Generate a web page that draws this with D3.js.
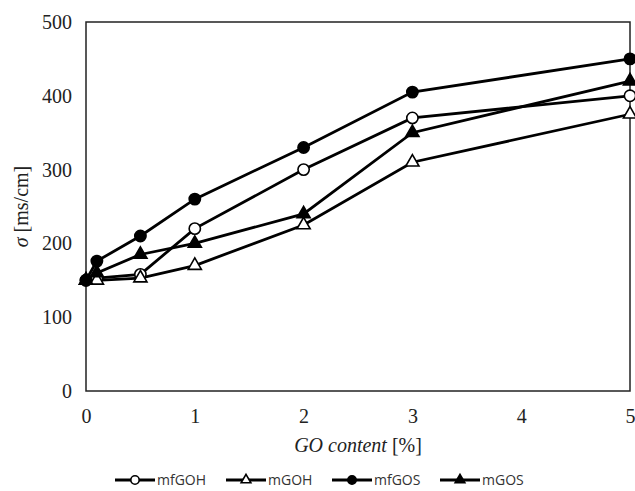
<!DOCTYPE html>
<html>
<head>
<meta charset="utf-8">
<title>sigma vs GO content</title>
<script src="https://d3js.org/d3.v7.min.js"></script>
<style>
  body { margin: 0; background: #fff; }
  svg { display: block; }
</style>
</head>
<body>
<div id="chart"></div>
<script>
// data
var goContent = [0, 0.1, 0.5, 1, 2, 3, 5];
var mfGOH = [150, 153, 158, 220, 300, 370, 400];
var mGOH  = [150, 150, 153, 170, 225, 310, 375];
var mfGOS = [150, 176, 210, 260, 330, 405, 450];
var mGOS  = [150, 160, 185, 200, 240, 350, 420];
var xTicks = [0, 1, 2, 3, 4, 5];
var yTicks = [0, 100, 200, 300, 400, 500];

var series = [
  { name: "mfGOH", values: mfGOH, shape: "circle",   fill: "#fff" },
  { name: "mGOH",  values: mGOH,  shape: "triangle", fill: "#fff" },
  { name: "mfGOS", values: mfGOS, shape: "circle",   fill: "#000" },
  { name: "mGOS",  values: mGOS,  shape: "triangle", fill: "#000" }
];

var W = 635, H = 491;
var margin = { top: 22, right: 5, bottom: 100, left: 86 };
var width = W - margin.left - margin.right,
    height = H - margin.top - margin.bottom;

var svg = d3.select("#chart").append("svg")
  .attr("width", W)
  .attr("height", H);

var g = svg.append("g")
  .attr("transform", "translate(" + margin.left + "," + margin.top + ")");

var x = d3.scaleLinear().domain([0, 5]).range([0, width]);
var y = d3.scaleLinear().domain([0, 500]).range([height, 0]);

// plot box
g.append("rect")
  .attr("width", width)
  .attr("height", height)
  .attr("fill", "none")
  .attr("stroke", "#222")
  .attr("stroke-width", 1.5);

// axes (labels only, box drawn above)
var xAxis = g.append("g")
  .attr("transform", "translate(0," + height + ")")
  .call(d3.axisBottom(x).tickValues(xTicks).tickSize(0).tickPadding(18).tickFormat(d3.format("d")));
var yAxis = g.append("g")
  .call(d3.axisLeft(y).tickValues(yTicks).tickSize(0).tickPadding(14));
[xAxis, yAxis].forEach(function (a) {
  a.select(".domain").remove();
  a.selectAll("text")
    .attr("font-family", "'Liberation Serif', 'Times New Roman', serif")
    .attr("font-size", 20)
    .attr("fill", "#222");
});

// axis titles
var xt = svg.append("text")
  .attr("x", margin.left + width / 2)
  .attr("y", 452)
  .attr("text-anchor", "middle")
  .attr("font-family", "'Liberation Serif', 'Times New Roman', serif")
  .attr("font-size", 20)
  .attr("fill", "#222");
xt.append("tspan").attr("font-style", "italic").text("GO content");
xt.append("tspan").text(" [%]");

var yt = svg.append("text")
  .attr("transform", "translate(28," + (margin.top + height / 2) + ") rotate(-90)")
  .attr("text-anchor", "middle")
  .attr("font-family", "'Liberation Serif', 'Times New Roman', serif")
  .attr("font-size", 20)
  .attr("fill", "#222");
yt.append("tspan").attr("font-style", "italic").text("σ");
yt.append("tspan").text(" [ms/cm]");

var line = d3.line()
  .x(function (d, i) { return x(goContent[i]); })
  .y(function (d) { return y(d); });

function drawMarker(sel, s, scale) {
  var k = scale || 1;
  var sym = s.shape === "circle"
    ? d3.symbol().type(d3.symbolCircle).size(100 * k)
    : d3.symbol().type(d3.symbolTriangle).size(75 * k);
  sel.attr("d", sym)
    .attr("fill", s.fill)
    .attr("stroke", "#000")
    .attr("stroke-width", 1.6);
}

series.forEach(function (s) {
  g.append("path")
    .datum(s.values)
    .attr("fill", "none")
    .attr("stroke", "#000")
    .attr("stroke-width", 2.8)
    .attr("d", line);
});

series.forEach(function (s) {
  g.selectAll(null)
    .data(s.values)
    .enter().append("path")
    .attr("transform", function (d, i) {
      return "translate(" + x(goContent[i]) + "," + y(d) + ")";
    })
    .call(drawMarker, s);
});

// legend
var legendX = [115, 226, 332, 440];
var legend = svg.append("g");
series.forEach(function (s, i) {
  var lg = legend.append("g").attr("transform", "translate(" + legendX[i] + ",480)");
  lg.append("line")
    .attr("x1", 0).attr("x2", 40)
    .attr("stroke", "#000").attr("stroke-width", 2.8);
  lg.append("path")
    .attr("transform", "translate(20,0)")
    .call(drawMarker, s, 0.55);
  lg.append("text")
    .attr("x", 42)
    .attr("y", 5)
    .attr("font-family", "'Open Sans', 'DejaVu Sans', sans-serif")
    .attr("font-size", 14)
    .attr("fill", "#333")
    .text(s.name);
});
</script>
</body>
</html>
